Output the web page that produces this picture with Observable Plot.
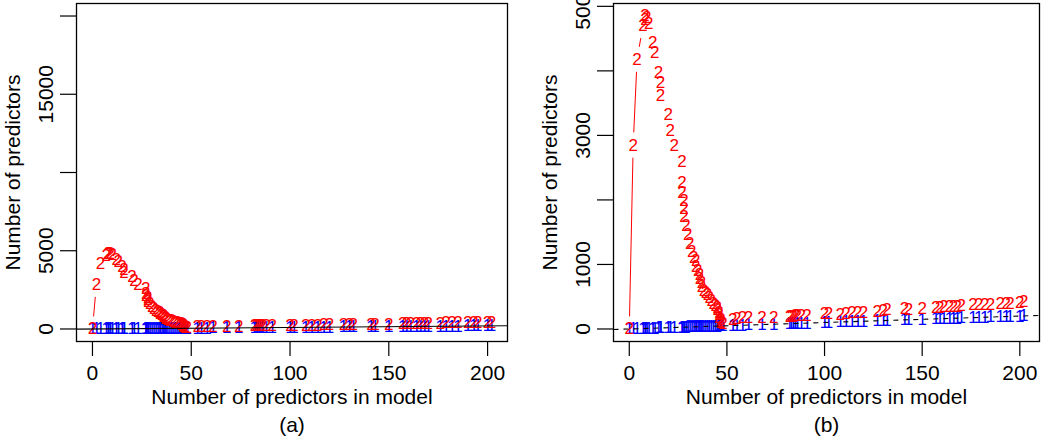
<!DOCTYPE html>
<html><head><meta charset="utf-8">
<script src="https://cdn.jsdelivr.net/npm/d3@7"></script>
<script src="https://cdn.jsdelivr.net/npm/@observablehq/plot@0.6"></script>
<style>
body{margin:0;background:#fff;}
#wrap{display:flex;width:1050px;height:440px;overflow:hidden;}
</style></head><body><div id="wrap"></div>
<script>
// x: number of predictors in model
const modelSize = [0,2,4,7,8,8,9,10,12,13,15,16,16,20,21,23,27,27,27,28,28,28,29,30,31,32,33,34,34,35,36,36,37,37,38,39,40,41,42,43,44,45,45,46,46,46,47,47,47,48,
  53,55,58,61,68,74,82,83,84,85,86,88,91,100,102,108,111,114,117,120,127,130,132,141,143,150,157,159,161,164,166,168,170,176,179,182,185,190,193,195,200,202];
// series "1" (blue)
const series1 = [0,2,4,7,8,8,9,10,12,13,15,16,16,20,21,23,27,27,27,28,28,28,29,30,31,32,33,34,34,35,36,36,37,37,38,39,40,41,42,43,44,45,45,46,46,46,47,47,47,48,
  53,55,58,61,68,74,82,83,84,85,86,88,91,100,102,108,111,114,117,120,127,130,132,141,143,150,157,159,161,164,166,168,170,176,179,182,185,190,193,195,200,202];
// series "2" (red)
const series2 = [0,2850,4180,4700,4790,4850,4820,4730,4440,4280,3970,3820,3610,3330,3080,2840,2600,2270,2120,1990,1860,1740,1600,1460,1320,1200,1110,1060,960,900,850,780,720,650,600,560,530,480,440,400,370,330,300,260,220,180,150,120,100,80,
  150,160,175,180,175,180,190,200,195,205,210,215,210,235,240,230,245,250,260,255,275,285,300,310,305,315,330,335,340,345,350,355,370,375,380,385,385,390,395,400,415,430];

const xTicks = [0,50,100,150,200];
const yTicksA = [0,5000,10000,15000,20000];
const yLabelsA = [0,5000,15000];
const yTicksB = [0,1000,2000,3000,4000,5000];
const yLabelsB = [0,1000,3000,5000];
const ylimA = [0,20000];
const panelLabels = ["(a)","(b)"];
const xTitle = "Number of predictors in model";
const yTitle = "Number of predictors";
const ablineA = 0, ablineB = 1;
const colors = ["#0000ff","#ff0000"];

function ext([lo,hi]){const d=(hi-lo)*0.04;return [lo-d,hi+d];}
const xDomain = ext(d3.extent(modelSize));
const rows = modelSize.map((x,i)=>({x, s1: series1[i], s2: series2[i]}));
function segs(key){const out=[];for(let i=0;i<rows.length-1;i++)out.push({x1:rows[i].x,y1:rows[i][key],x2:rows[i+1].x,y2:rows[i+1][key]});return out;}
const abl = [{x1:xDomain[0], y1:ablineA+ablineB*xDomain[0], x2:xDomain[1], y2:ablineA+ablineB*xDomain[1]}];

function panel({yDomain, yTicks, yLabels, label, marginLeft, marginRight, dashed}){
  return Plot.plot({
    width:525, height:440, marginTop:3, marginBottom:99, marginLeft, marginRight,
    style:{fontFamily:"'Liberation Sans', Arial, Helvetica, sans-serif", fontSize:"21px", background:"white", overflow:"visible", color:"black"},
    x:{domain:xDomain}, y:{domain:yDomain},
    marks:[
      Plot.axisX({ticks:xTicks, tickSize:15, tickPadding:9, label:null, fontSize:21, strokeWidth:1.2}),
      Plot.axisY({ticks:yTicks, tickSize:16, tickFormat:()=>"", label:null, strokeWidth:1.2}),
      Plot.text(yLabels,{y:d=>d, text:d=>String(d), frameAnchor:"left", dx:-30, rotate:-90, textAnchor:"middle", lineAnchor:"middle", fontSize:21}),
      Plot.text([yTitle],{text:d=>d, frameAnchor:"left", dx:-63, rotate:-90, textAnchor:"middle", lineAnchor:"middle", fontSize:21}),
      Plot.text([xTitle],{text:d=>d, frameAnchor:"bottom", dy:56, textAnchor:"middle", lineAnchor:"middle", fontSize:21}),
      Plot.text([label],{text:d=>d, frameAnchor:"bottom", dy:84, textAnchor:"middle", lineAnchor:"middle", fontSize:21}),
      Plot.arrow(segs("s1"),{x1:"x1",y1:"y1",x2:"x2",y2:"y2",stroke:colors[0],strokeWidth:1,headLength:0,inset:13}),
      Plot.text(rows,{x:"x",y:"s1",text:()=>"1",fill:colors[0],fontSize:17}),
      Plot.arrow(segs("s2"),{x1:"x1",y1:"y1",x2:"x2",y2:"y2",stroke:colors[1],strokeWidth:1,headLength:0,inset:13}),
      Plot.text(rows,{x:"x",y:"s2",text:()=>"2",fill:colors[1],fontSize:17}),
      Plot.link(abl,{x1:"x1",y1:"y1",x2:"x2",y2:"y2",stroke:"black",strokeWidth:1.1,strokeDasharray:dashed?"5,5":null}),
      Plot.frame({stroke:"black",strokeWidth:1.3})
    ]
  });
}
const wrap = document.getElementById("wrap");
wrap.append(panel({yDomain:ext(ylimA), yTicks:yTicksA, yLabels:yLabelsA, label:panelLabels[0], marginLeft:76, marginRight:18, dashed:false}));
wrap.append(panel({yDomain:ext([0, d3.max([...series1,...series2])]), yTicks:yTicksB, yLabels:yLabelsB, label:panelLabels[1], marginLeft:88, marginRight:11, dashed:true}));
</script></body></html>
